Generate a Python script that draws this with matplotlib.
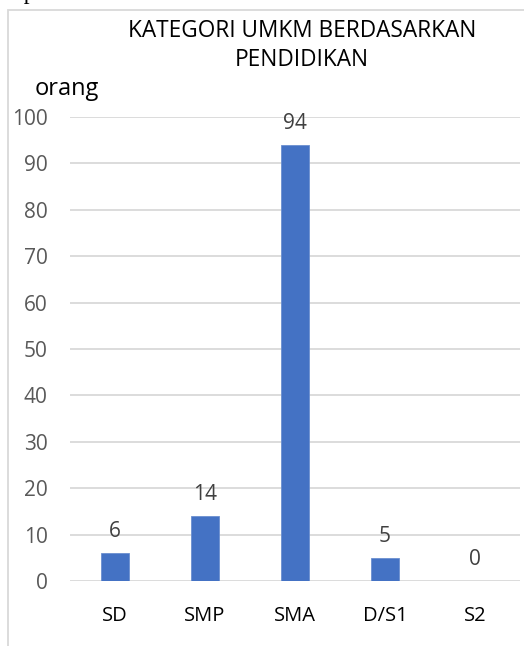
import matplotlib.pyplot as plt
from matplotlib.patches import Rectangle

kategori = ["SD", "SMP", "SMA", "D/S1", "S2"]
jumlah = [6, 14, 94, 5, 0]
yticks = [0, 10, 20, 30, 40, 50, 60, 70, 80, 90, 100]

plt.rcParams['font.family'] = ['Open Sans', 'DejaVu Sans']

fig = plt.figure(figsize=(5.24, 6.46), dpi=100)
W, H = 524, 646

# chart frame (runs off the page on the right and bottom)
fig.patches.append(Rectangle((8 / W, -0.1), 1.2, 1 - 10 / H + 0.1, transform=fig.transFigure,
                             fill=False, edgecolor='#d9d9d9', linewidth=1.3))

# bottom of the line of body text above the chart
fig.text(0.0, 1 + 1 / H, "Sependidikan SMA", family='Liberation Serif', fontsize=17,
         ha='left', va='baseline', color='black')

ax = fig.add_axes([70 / W, 1 - 581 / H, 450 / W, (581 - 117) / H])
x = range(len(kategori))
bars = ax.bar(x, jumlah, width=0.31, color='#4472C4', edgecolor='#6b8fd0', linewidth=0.6, zorder=3)
ax.set_xlim(-0.5, len(kategori) - 0.5)
ax.set_ylim(0, 100)
ax.set_yticks(yticks)
ax.set_xticks(list(x))
ax.set_xticklabels(kategori, fontsize=14.5, color='black')
ax.tick_params(axis='y', labelsize=15, labelcolor='#595959', length=0, pad=16)
ax.tick_params(axis='x', length=0, pad=18)
ax.grid(axis='y', color='#d9d9d9', linewidth=1.3, zorder=0)
for s in ax.spines.values():
    s.set_visible(False)

for xi, v in zip(x, jumlah):
    ax.annotate(str(v), (xi, v), xytext=(0, 17.3), textcoords='offset points',
                ha='center', va='center_baseline', fontsize=15, color='#404040')

fig.text(302 / W, 1 - 37 / H, "KATEGORI UMKM BERDASARKAN", ha='center', va='baseline',
         fontsize=16.3, color='black')
fig.text(302 / W, 1 - 66 / H, "PENDIDIKAN", ha='center', va='baseline',
         fontsize=16.3, color='black')
fig.text(35 / W, 1 - 95 / H, "orang", ha='left', va='baseline', fontsize=17, color='black')

fig.savefig("out.png", dpi=100)
